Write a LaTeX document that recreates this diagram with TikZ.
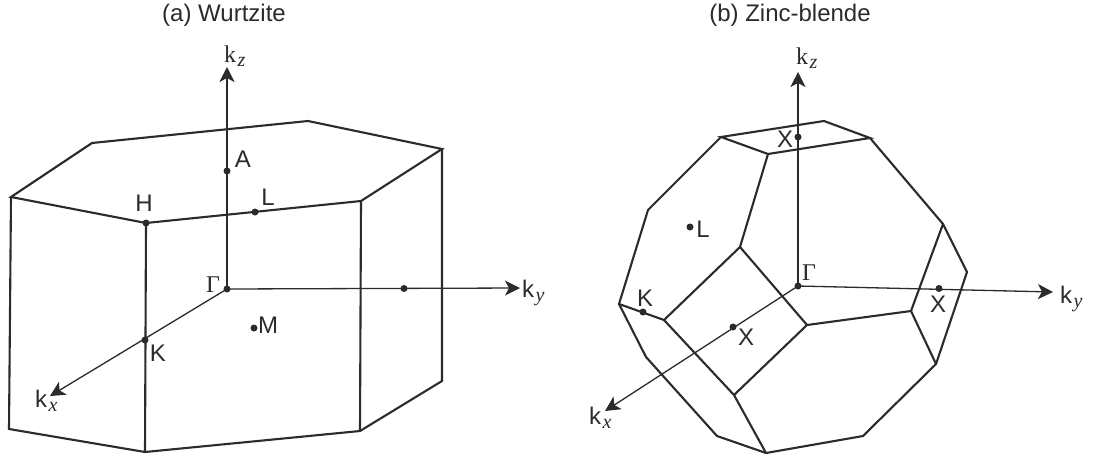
\documentclass[tikz,border=0pt]{standalone}
\usepackage{fontspec}
\setmainfont{Liberation Sans}
\newfontfamily\serifrm{Liberation Serif}
\usetikzlibrary{arrows.meta}
\definecolor{ink}{HTML}{2B2A2C}
\tikzset{
  edge/.style={draw=ink,line width=2.1pt,line join=miter},
  axis/.style={draw=ink,line width=1.3pt,-{Stealth[length=15pt,width=15pt,inset=4pt]}},
  pt/.style={circle,fill=ink,draw=none,inner sep=0pt,minimum size=7pt},
  lab/.style={text=ink,inner sep=0pt,font=\fontsize{24}{26}\selectfont},
  axl/.style={text=ink,inner sep=0pt,anchor=base west,font=\fontsize{24}{26}\selectfont},
}
\newcommand{\subs}[1]{\kern1.5pt{\fontsize{20}{21}\selectfont\serifrm\itshape\raisebox{-4.5pt}{#1}}}
\begin{document}
\begin{tikzpicture}[x=1pt,y=-1pt]
\useasboundingbox (0,0) rectangle (1094,458);
\fill[white] (0,0) rectangle (1094,458);
% (a)
\coordinate (a1) at (11,197);
\coordinate (a2) at (92,143);
\coordinate (a3) at (308,121);
\coordinate (a4) at (442,149);
\coordinate (a5) at (361,201);
\coordinate (a7) at (9,429);
\coordinate (a8) at (145,452);
\coordinate (a9) at (360,431);
\coordinate (a10) at (442,381);
\node[pt] (aH) at (146,223) {};
\node[pt] (aK) at (145,340) {};
\node[pt] (aG) at (227,289) {};
\node[pt] (aA) at (227,171) {};
\node[pt] (aL) at (255,212) {};
\node[pt] (aY) at (404,288.5) {};
\node[pt] (aM) at (254,328) {};
\coordinate (az) at (227,67);
\coordinate (ay) at (520,288);
\coordinate (ax) at (50,396);
\draw[edge] (a1)--(a2)--(a3)--(a4)--(a5)--(aH.center)--cycle;
\draw[edge] (a1)--(a7)--(a8)--(a9)--(a10)--(a4);
\draw[edge] (aH.center)--(a8);
\draw[edge] (a5)--(a9);
\draw[axis] (aG.center)--(az);
\draw[axis] (aG.center)--(ay);
\draw[axis] (aG.center)--(ax);
\node[lab] (at) at (224,15) {(a) Wurtzite};
\node[axl] (azl) at (224,62) {{\serifrm k}\subs{z}};
\node[axl] (ayl) at (522,297) {k\subs{y}};
\node[axl] (axl) at (35,407) {k\subs{x}};
\node[lab] (lA) at (243,159) {A};
\node[lab] (lL) at (268,197) {L};
\node[lab] (lH) at (144,203) {H};
\node[lab] (lK) at (158,353) {K};
\node[lab] (lM) at (268,325) {M};
\node[lab] (lG) at (213,285) {\serifrm Γ};
% (b)
\coordinate (ba) at (721,137);
\coordinate (bb) at (824,121);
\coordinate (bc) at (870,138);
\coordinate (bd) at (768,154);
\coordinate (be) at (943,224);
\coordinate (bf) at (967,272);
\coordinate (bg) at (911,311);
\coordinate (bh) at (936,364);
\coordinate (bi) at (863,436);
\coordinate (bj) at (766,453);
\coordinate (bk) at (717,436);
\coordinate (bl) at (646,357);
\coordinate (bm) at (619,304);
\coordinate (bn) at (648,210);
\coordinate (bo) at (740,247);
\coordinate (bp) at (664,320);
\coordinate (bq) at (807,325);
\coordinate (br) at (734,395);
\node[pt] (bG) at (798,286) {};
\node[pt] (bXt) at (798,137) {};
\node[pt] (bL) at (690,227) {};
\node[pt] (bK) at (643,312) {};
\node[pt] (bXf) at (733,327) {};
\node[pt] (bXr) at (939,288.5) {};
\coordinate (bz) at (798,72);
\coordinate (by) at (1053,292);
\coordinate (bx) at (605,411);
\draw[edge] (ba)--(bb)--(bc)--(bd)--cycle;
\draw[edge] (ba)--(bn)--(bm)--(bl)--(bk)--(bj)--(bi)--(bh)--(bf)--(be)--(bc);
\draw[edge] (bd)--(bo)--(bp)--(bm);
\draw[edge] (bo)--(bq)--(br)--(bp);
\draw[edge] (bq)--(bg)--(be);
\draw[edge] (bg)--(bh);
\draw[edge] (br)--(bj);
\draw[axis] (bG.center)--(bz);
\draw[axis] (bG.center)--(by);
\draw[axis] (bG.center)--(bx);
\node[lab] (bt) at (790,15) {(b) Zinc-blende};
\node[axl] (bzl) at (796,64) {{\serifrm k}\subs{z}};
\node[axl] (byl) at (1060,303) {k\subs{y}};
\node[axl] (bxl) at (589,424) {k\subs{x}};
\node[lab] (lXt) at (785,139) {X};
\node[lab] (lL2) at (703,229) {L};
\node[lab] (lK2) at (645,298) {K};
\node[lab] (lXf) at (746,337) {X};
\node[lab] (lXr) at (938,304) {X};
\node[lab] (lG2) at (809,273) {\serifrm Γ};
\end{tikzpicture}
\end{document}
